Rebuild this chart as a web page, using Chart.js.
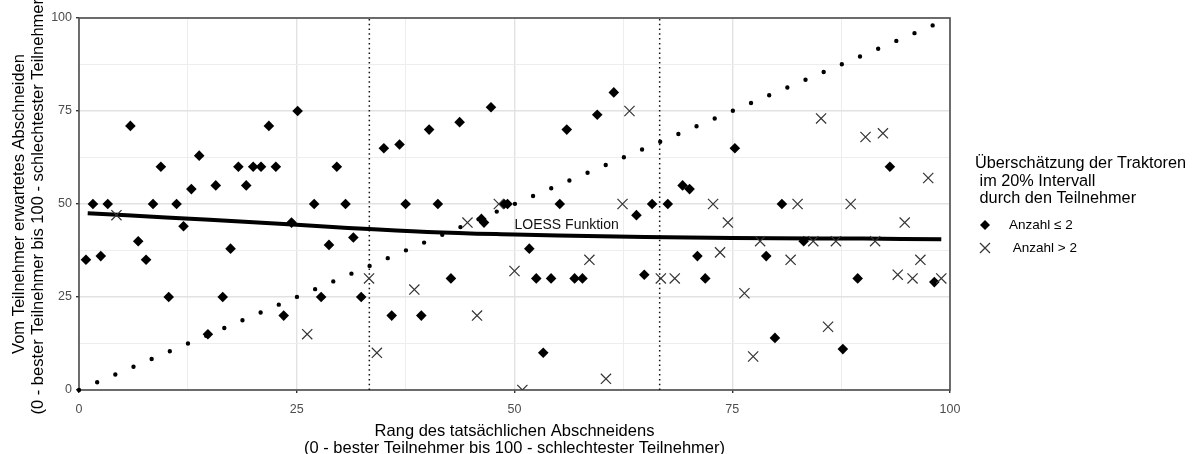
<!DOCTYPE html>
<html>
<head>
<meta charset="utf-8">
<script src="https://cdn.jsdelivr.net/npm/chart.js@4.4.1/dist/chart.umd.min.js"></script>
<style>
  html, body { margin: 0; padding: 0; background: #fff; }
  #wrap { width: 1197px; height: 454px; }
</style>
</head>
<body>
<div id="wrap"><canvas id="chart" width="1197" height="454"></canvas></div>
<script>
// actual rank (x) vs expected rank (y), participants with Anzahl <= 2
const lowRank = [0.8, 1.6, 2.5, 3.3, 5.9, 6.8, 7.7, 8.5, 9.4, 10.3, 11.2, 12.0, 12.9, 13.8, 14.8,
  15.7, 16.5, 17.4, 18.3, 19.2, 20.0, 20.9, 21.8, 22.6, 23.5, 24.4, 25.1, 27.0, 27.8, 28.7,
  29.6, 30.6, 31.5, 32.4, 35.0, 35.9, 36.8, 37.5, 39.3, 40.2, 41.2, 42.7, 43.7, 46.2, 46.5,
  47.3, 48.8, 49.2, 51.7, 52.5, 53.3, 54.2, 55.2, 56.0, 56.9, 57.8, 59.5, 61.4, 64.0, 64.9,
  65.8, 67.6, 69.3, 70.1, 71.0, 71.9, 75.3, 78.9, 79.9, 80.7, 83.2, 87.7, 89.4, 93.1, 98.2];
const lowExpected = [35, 50, 36, 50, 71, 40, 35, 50, 60, 25, 50, 44, 54, 63, 15,
  55, 25, 38, 60, 55, 60, 60, 71, 60, 20, 45, 75, 50, 25, 39,
  60, 50, 41, 25, 65, 20, 66, 50, 20, 70, 50, 30, 72, 46, 45,
  76, 50, 50, 38, 30, 10, 30, 50, 70, 30, 30, 74, 80, 47, 31,
  50, 50, 55, 54, 36, 30, 65, 36, 14, 50, 40, 11, 30, 60, 29];

// participants with Anzahl > 2
const highRank = [4.3, 26.2, 33.3, 34.2, 38.5, 44.6, 45.7, 48.2, 50.0, 50.9, 58.6, 60.5, 62.4,
  63.2, 66.8, 68.4, 72.8, 73.6, 74.5, 76.4, 77.4, 78.2, 81.7, 82.5, 84.3, 85.2, 86.0, 86.9,
  88.6, 90.3, 91.4, 92.3, 94.0, 94.8, 95.7, 96.6, 97.5, 99.0];
const highExpected = [47, 15, 30, 10, 27, 45, 20, 50, 32, 0, 35, 3, 50,
  75, 30, 30, 50, 37, 45, 26, 9, 40, 35, 50, 40, 73, 17, 40,
  50, 68, 40, 69, 31, 45, 30, 35, 57, 30];

// LOESS fit
const loessRank = [1, 10, 20, 30, 40, 50, 60, 70, 80, 90, 99];
const loessFit = [47.5, 46.4, 45.1, 43.7, 42.5, 41.8, 41.3, 41.0, 40.8, 40.7, 40.5];

const diagonal = [0, 100];
const thirds = [100 / 3, 200 / 3];
const majorTicks = [0, 25, 50, 75, 100];

const xTitle = ["Rang des tatsächlichen Abschneidens", "(0 - bester Teilnehmer bis 100 - schlechtester Teilnehmer)"];
const yTitle = ["Vom Teilnehmer erwartetes Abschneiden", "(0 - bester Teilnehmer bis 100 - schlechtester Teilnehmer)"];
const legendTitle = ["Überschätzung der Traktoren", " im 20% Intervall", " durch den Teilnehmer"];
const legendLabels = ["Anzahl ≤ 2", " Anzahl > 2"];
const loessLabel = "LOESS Funktion";

const FONT = "'Liberation Sans', Arial, sans-serif";
const zip = (xs, ys) => xs.map((x, i) => ({ x: x, y: ys[i] }));
const isMajor = (ctx) => ctx.tick && majorTicks.includes(ctx.tick.value);

const datasets = [
  {
    label: legendLabels[1],
    data: zip(highRank, highExpected),
    pointStyle: "crossRot",
    pointRadius: 7.2,
    pointBorderWidth: 1.2,
    borderColor: "#333",
    backgroundColor: "#333",
    order: 0
  },
  {
    label: legendLabels[0],
    data: zip(lowRank, lowExpected),
    pointStyle: "rectRot",
    pointRadius: 5.3,
    pointBorderWidth: 0,
    backgroundColor: "#000",
    borderColor: "#000",
    order: 1
  },
  {
    label: "loess",
    data: zip(loessRank, loessFit),
    showLine: true,
    pointRadius: 0,
    borderWidth: 4,
    borderColor: "#000",
    tension: 0.4,
    order: 2
  },
  {
    label: "diagonal",
    data: zip(diagonal, diagonal),
    showLine: true,
    pointRadius: 0,
    borderWidth: 4.4,
    borderColor: "#000",
    borderCapStyle: "round",
    borderDash: [0, 19.75],
    clip: 4,
    order: 3
  }
];

thirds.forEach((t) => {
  datasets.push({
    label: "third",
    data: zip([t, t], diagonal),
    showLine: true,
    pointRadius: 0,
    borderWidth: 1.5,
    borderColor: "#111",
    borderDash: [1.5, 3.3],
    order: 4
  });
});

const extras = {
  id: "extras",
  beforeDatasetsDraw(chart) {
    const { ctx, chartArea: a } = chart;
    ctx.save();
    // panel border
    ctx.strokeStyle = "#4d4d4d";
    ctx.lineWidth = 1.6;
    ctx.strokeRect(a.left, a.top, a.right - a.left, a.bottom - a.top);
    ctx.restore();
  },
  afterDatasetsDraw(chart) {
    const { ctx, scales } = chart;
    ctx.save();
    // LOESS label
    ctx.fillStyle = "#111";
    ctx.font = "14px " + FONT;
    ctx.textAlign = "left";
    ctx.textBaseline = "middle";
    ctx.fillText(loessLabel, scales.x.getPixelForValue(50), scales.y.getPixelForValue(44.2));
    ctx.restore();
  },
  afterDraw(chart) {
    const ctx = chart.ctx;
    ctx.save();
    ctx.fillStyle = "#000";
    ctx.textAlign = "left";
    ctx.textBaseline = "middle";
    ctx.font = "16.3px " + FONT;
    legendTitle.forEach((line, i) => ctx.fillText(line, 975, 164 + i * 17.5));
    // diamond key
    const dx = 985, dy = 225, r = 5;
    ctx.beginPath();
    ctx.moveTo(dx, dy - r); ctx.lineTo(dx + r, dy); ctx.lineTo(dx, dy + r); ctx.lineTo(dx - r, dy);
    ctx.closePath();
    ctx.fill();
    // cross key
    const cx = 985, cy = 248, s = 5;
    ctx.strokeStyle = "#333";
    ctx.lineWidth = 1.2;
    ctx.beginPath();
    ctx.moveTo(cx - s, cy - s); ctx.lineTo(cx + s, cy + s);
    ctx.moveTo(cx - s, cy + s); ctx.lineTo(cx + s, cy - s);
    ctx.stroke();
    ctx.font = "13.5px " + FONT;
    ctx.fillText(legendLabels[0], 1009, dy);
    ctx.fillText(legendLabels[1], 1009, cy);
    ctx.restore();
  }
};

function gridOpts() {
  return {
    color: (ctx) => (isMajor(ctx) ? "#e2e2e2" : "#ededed"),
    lineWidth: (ctx) => (isMajor(ctx) ? 1.4 : 1),
    tickColor: (ctx) => (isMajor(ctx) ? "#333" : "rgba(0,0,0,0)"),
    tickLength: 3,
    drawTicks: true
  };
}

new Chart(document.getElementById("chart"), {
  type: "scatter",
  data: { datasets: datasets },
  options: {
    responsive: false,
    animation: false,
    layout: { padding: { left: 0, right: 247, top: 18, bottom: 0 } },
    plugins: { legend: { display: false }, tooltip: { enabled: false } },
    scales: {
      x: {
        type: "linear",
        min: 0,
        max: 100,
        border: { display: false },
        grid: gridOpts(),
        ticks: {
          stepSize: 12.5,
          autoSkip: false,
          maxRotation: 0,
          padding: 9,
          color: "#4d4d4d",
          font: { family: FONT, size: 12.5 },
          callback: (v) => (majorTicks.includes(v) ? v : "")
        },
        title: {
          display: true,
          text: xTitle,
          color: "#000",
          font: { family: FONT, size: 16.5, lineHeight: 1.05 },
          padding: { top: 0, bottom: -3 }
        },
        afterFit: (scale) => { scale.height = 64; }
      },
      y: {
        type: "linear",
        min: 0,
        max: 100,
        border: { display: false },
        grid: gridOpts(),
        ticks: {
          stepSize: 12.5,
          autoSkip: false,
          padding: 4,
          color: "#4d4d4d",
          font: { family: FONT, size: 12.5 },
          callback: (v) => (majorTicks.includes(v) ? v : "")
        },
        title: {
          display: true,
          text: yTitle,
          color: "#000",
          font: { family: FONT, size: 16.5, lineHeight: 1.15 },
          padding: { top: 10, bottom: 0 }
        },
        afterFit: (scale) => { scale.width = 79; }
      }
    }
  },
  plugins: [extras]
});
</script>
</body>
</html>
